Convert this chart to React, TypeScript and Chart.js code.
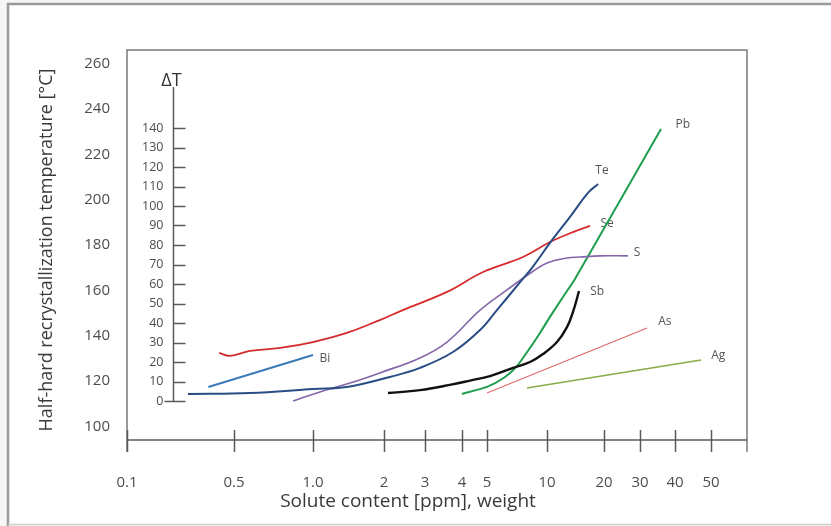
import React, { useEffect, useRef } from 'react';
import { Chart, registerables, LinearScale } from 'chart.js';

// ---------- data ----------
const X_TICKS = [0.1, 0.5, 1, 2, 3, 4, 5, 10, 20, 30, 40, 50];
const X_TICK_LABELS = ['0.1', '0.5', '1.0', '2', '3', '4', '5', '10', '20', '30', '40', '50'];
// the original axis is hand-spaced: fraction of the axis length where each tick sits
const X_TICK_FRACTIONS = [0, 0.1726, 0.3, 0.4145, 0.4806, 0.5403, 0.5806, 0.6774, 0.7694, 0.8274, 0.8839, 0.9419];
const X_MAX = 62;
const Y_TICKS = [100, 120, 140, 160, 180, 200, 220, 240, 260];
const DT_TICKS = [0, 10, 20, 30, 40, 50, 60, 70, 80, 90, 100, 110, 120, 130, 140];
const DT_AXIS_AT_X = 0.2;
const DT_AXIS_TOP = 161;

const BI_X = [0.34, 1.0];
const BI_Y = [117.4, 131.5];
const TE_X = [0.25, 0.575, 1.0, 1.39, 2.12, 2.855, 3.73, 4.7, 5.61, 7.49, 8.41, 10.37, 13.23, 16.46, 18.6];
const TE_Y = [114.3, 114.7, 116.5, 117.4, 121.8, 125.8, 132.8, 142.5, 151.3, 164.6, 169.9, 180.9, 192.4, 203.0, 206.9];
const SE_X = [0.4, 0.47, 0.575, 0.75, 1.0, 1.39, 1.92, 2.41, 3.56, 4.83, 7.58, 10.37, 13.72, 16.87];
const SE_Y = [132.4, 131.1, 133.3, 134.6, 137.2, 141.2, 146.9, 151.3, 159.3, 168.1, 174.7, 181.3, 185.7, 188.4];
const S_X = [0.84, 1.07, 1.435, 1.92, 2.855, 3.56, 4.7, 6.3, 8.41, 10, 12.75, 14.94, 19.05, 26.2];
const S_Y = [111.2, 115.2, 119.1, 123.6, 130.2, 137.2, 151.3, 160.2, 168.1, 172.1, 174.3, 174.7, 175.2, 175.2];
const SB_X = [2.08, 2.855, 3.64, 4.3, 5.18, 6.75, 8.22, 9.55, 11.29, 12.75, 13.72, 14.76];
const SB_Y = [114.7, 116.0, 118.3, 120.2, 122.2, 125.8, 128.4, 131.9, 137.2, 143.8, 150.5, 159.7];
const PB_X = [4.0, 5.0, 6.16, 7.07, 8.22, 9.22, 10.37, 12.15, 14.05, 35.65];
const PB_Y = [114.3, 117.4, 121.8, 126.6, 134.6, 141.2, 148.3, 157.1, 165.0, 231.2];
const AS_X = [5.0, 31.8];
const AS_Y = [114.7, 143.4];
const AG_X = [7.94, 47.0];
const AG_Y = [116.9, 129.3];

const LABEL_NAMES = ['Pb', 'Te', 'Se', 'S', 'Sb', 'As', 'Ag', 'Bi'];
const LABEL_X = [42.0, 19.5, 20.7, 29.0, 18.4, 36.8, 52.2, 1.124];
const LABEL_Y = [232.9, 212.7, 189.3, 176.5, 159.3, 146.1, 131.1, 129.7];

const X_TITLE = 'Solute content [ppm], weight';
const Y_TITLE = 'Half-hard recrystallization temperature [°C]';
const DT_TITLE = 'ΔT';

// ---------- scale with the original's hand-spaced log axis ----------
const ANCHOR_LOGS = [...X_TICKS, X_MAX].map((v) => Math.log10(v));
const ANCHOR_FRACS = [...X_TICK_FRACTIONS, 1];

class HandLogScale extends LinearScale {
  static id = 'handLog';
  static defaults = {};
  getPixelForValue(value: number) {
    if (value === null || value === undefined || isNaN(value) || value <= 0) return NaN;
    const l = Math.log10(value);
    let i = 0;
    while (i < ANCHOR_LOGS.length - 2 && l > ANCHOR_LOGS[i + 1]) i++;
    const f = ANCHOR_FRACS[i] + ((l - ANCHOR_LOGS[i]) / (ANCHOR_LOGS[i + 1] - ANCHOR_LOGS[i])) * (ANCHOR_FRACS[i + 1] - ANCHOR_FRACS[i]);
    return this.getPixelForDecimal(f);
  }
  getValueForPixel(pixel: number) {
    const f = this.getDecimalForPixel(pixel);
    let i = 0;
    while (i < ANCHOR_FRACS.length - 2 && f > ANCHOR_FRACS[i + 1]) i++;
    const l = ANCHOR_LOGS[i] + ((f - ANCHOR_FRACS[i]) / (ANCHOR_FRACS[i + 1] - ANCHOR_FRACS[i])) * (ANCHOR_LOGS[i + 1] - ANCHOR_LOGS[i]);
    return Math.pow(10, l);
  }
}

Chart.register(...registerables);
Chart.register(HandLogScale as any);

const FONT = '"Open Sans", Lato, sans-serif';
const TEXT = '#4d4d4d';

const zip = (xs: number[], ys: number[]) => xs.map((x, i) => ({ x, y: ys[i] }));

const handAxes = {
  id: 'handAxes',
  beforeDatasetsDraw(chart: any) {
    const { ctx, chartArea: a, scales } = chart;
    const xs = scales.x;
    const ys = scales.y;
    const dt = scales.dt;
    ctx.save();
    // outer frame
    ctx.strokeStyle = '#9a9a9a';
    ctx.lineWidth = 2.5;
    ctx.beginPath();
    ctx.moveTo(8, 526);
    ctx.lineTo(8, 4);
    ctx.lineTo(chart.width, 4);
    ctx.stroke();
    ctx.strokeStyle = '#d0d0d0';
    ctx.lineWidth = 1.5;
    ctx.beginPath();
    ctx.moveTo(8, 524.5);
    ctx.lineTo(chart.width, 524.5);
    ctx.stroke();

    // plot box
    ctx.strokeStyle = '#7a7a7a';
    ctx.lineWidth = 1.5;
    ctx.beginPath();
    ctx.moveTo(a.left, a.bottom + 12);
    ctx.lineTo(a.left, a.top);
    ctx.lineTo(a.right, a.top);
    ctx.lineTo(a.right, a.bottom + 12);
    ctx.stroke();

    // x axis line and crossing ticks
    ctx.strokeStyle = '#5a5a5a';
    ctx.beginPath();
    ctx.moveTo(a.left, a.bottom);
    ctx.lineTo(a.right, a.bottom);
    X_TICKS.forEach((v) => {
      const px = Math.round(xs.getPixelForValue(v)) + 0.5;
      ctx.moveTo(px, a.bottom - 10);
      ctx.lineTo(px, a.bottom + 12);
    });
    ctx.stroke();

    // axis titles
    ctx.fillStyle = '#3a3a3a';
    ctx.font = `19px ${FONT}`;
    ctx.textAlign = 'center';
    ctx.textBaseline = 'middle';
    ctx.fillText(X_TITLE, 408, 502);
    ctx.save();
    ctx.translate(47, 250);
    ctx.rotate(-Math.PI / 2);
    ctx.font = `18px ${FONT}`;
    ctx.fillText(Y_TITLE, 0, 0);
    ctx.restore();

    // ΔT axis
    const ax = Math.round(xs.getPixelForValue(DT_AXIS_AT_X)) + 0.5;
    const y0 = dt.getPixelForValue(0);
    const yTop = dt.getPixelForValue(DT_AXIS_TOP);
    ctx.strokeStyle = '#5a5a5a';
    ctx.lineWidth = 1.5;
    ctx.beginPath();
    ctx.moveTo(ax, yTop);
    ctx.lineTo(ax, y0);
    DT_TICKS.forEach((v) => {
      const py = Math.round(dt.getPixelForValue(v)) + 0.5;
      ctx.moveTo(v === 0 ? ax - 9 : ax, py);
      ctx.lineTo(ax + 12, py);
    });
    ctx.stroke();
    ctx.fillStyle = TEXT;
    ctx.font = `12.5px ${FONT}`;
    ctx.textAlign = 'right';
    ctx.textBaseline = 'middle';
    DT_TICKS.forEach((v) => {
      ctx.fillText(String(v), ax - 10, dt.getPixelForValue(v));
    });
    ctx.fillStyle = '#333';
    ctx.font = `18px ${FONT}`;
    ctx.textAlign = 'center';
    ctx.textBaseline = 'bottom';
    ctx.fillText(DT_TITLE, ax - 2, yTop + 3);

    // curve labels
    ctx.fillStyle = '#555';
    ctx.font = `12px ${FONT}`;
    ctx.textAlign = 'center';
    ctx.textBaseline = 'middle';
    LABEL_NAMES.forEach((n, i) => {
      ctx.fillText(n, xs.getPixelForValue(LABEL_X[i]), ys.getPixelForValue(LABEL_Y[i]));
    });
    ctx.restore();
  },
};

const bgPlugin = {
  id: 'bg',
  beforeDraw(chart: any) {
    const { ctx } = chart;
    ctx.save();
    ctx.fillStyle = '#f6f6f6';
    ctx.fillRect(0, 0, chart.width, chart.height);
    ctx.fillStyle = '#ffffff';
    ctx.fillRect(8, 4, chart.width - 8, 521);
    ctx.restore();
  },
};

export default function App() {
  const ref = useRef<HTMLCanvasElement | null>(null);
  useEffect(() => {
    if (!ref.current) return;
    const mk = (label: string, xs: number[], ys: number[], color: string, width: number, tension = 0) => ({
      label,
      data: zip(xs, ys),
      borderColor: color,
      backgroundColor: color,
      borderWidth: width,
      pointRadius: 0,
      fill: false,
      tension,
      xAxisID: 'x',
      yAxisID: 'y',
    });
    const chart = new Chart(ref.current, {
      type: 'line',
      data: {
        datasets: [
          mk('Bi', BI_X, BI_Y, '#3a7ab8', 2),
          mk('Te', TE_X, TE_Y, '#2a4d85', 2, 0.4),
          mk('Se', SE_X, SE_Y, '#d42b2b', 1.8, 0.4),
          mk('S', S_X, S_Y, '#8466a8', 1.6, 0.4),
          mk('Sb', SB_X, SB_Y, '#111111', 2.4, 0.4),
          mk('Pb', PB_X, PB_Y, '#1e9e4e', 2, 0.2),
          mk('As', AS_X, AS_Y, '#e06a6a', 1.2),
          mk('Ag', AG_X, AG_Y, '#8aab4a', 1.6),
        ] as any,
      },
      options: {
        responsive: false,
        animation: false,
        layout: { padding: { left: 0, right: 84, top: 50, bottom: 0 } },
        plugins: { legend: { display: false }, tooltip: { enabled: false }, title: { display: false } },
        scales: {
          x: {
            type: 'handLog' as any,
            position: 'bottom',
            min: 0.1,
            max: X_MAX,
            afterBuildTicks: (s: any) => {
              s.ticks = X_TICKS.map((v) => ({ value: v }));
            },
            afterFit: (s: any) => {
              s.height = 86;
            },
            grid: { display: false, drawTicks: false },
            border: { display: false },
            ticks: {
              autoSkip: false,
              maxRotation: 0,
              padding: 34,
              color: TEXT,
              font: { family: FONT, size: 15 },
              callback: (_v: any, i: number) => X_TICK_LABELS[i],
            },
          },
          y: {
            type: 'linear',
            position: 'left',
            min: 94,
            max: 266,
            afterBuildTicks: (s: any) => {
              s.ticks = Y_TICKS.map((v) => ({ value: v }));
            },
            afterFit: (s: any) => {
              s.width = 127;
            },
            grid: { display: false, drawTicks: false },
            border: { display: false },
            ticks: { padding: 17, color: TEXT, font: { family: FONT, size: 15 } },
            title: { display: false },
          },
          dt: {
            type: 'linear',
            position: 'right',
            display: false,
            min: -20,
            max: 180,
          },
        },
      } as any,
      plugins: [bgPlugin, handAxes],
    });
    return () => chart.destroy();
  }, []);
  return <canvas ref={ref} width={831} height={526} style={{ position: 'fixed', left: 0, top: 0 }} />;
}
